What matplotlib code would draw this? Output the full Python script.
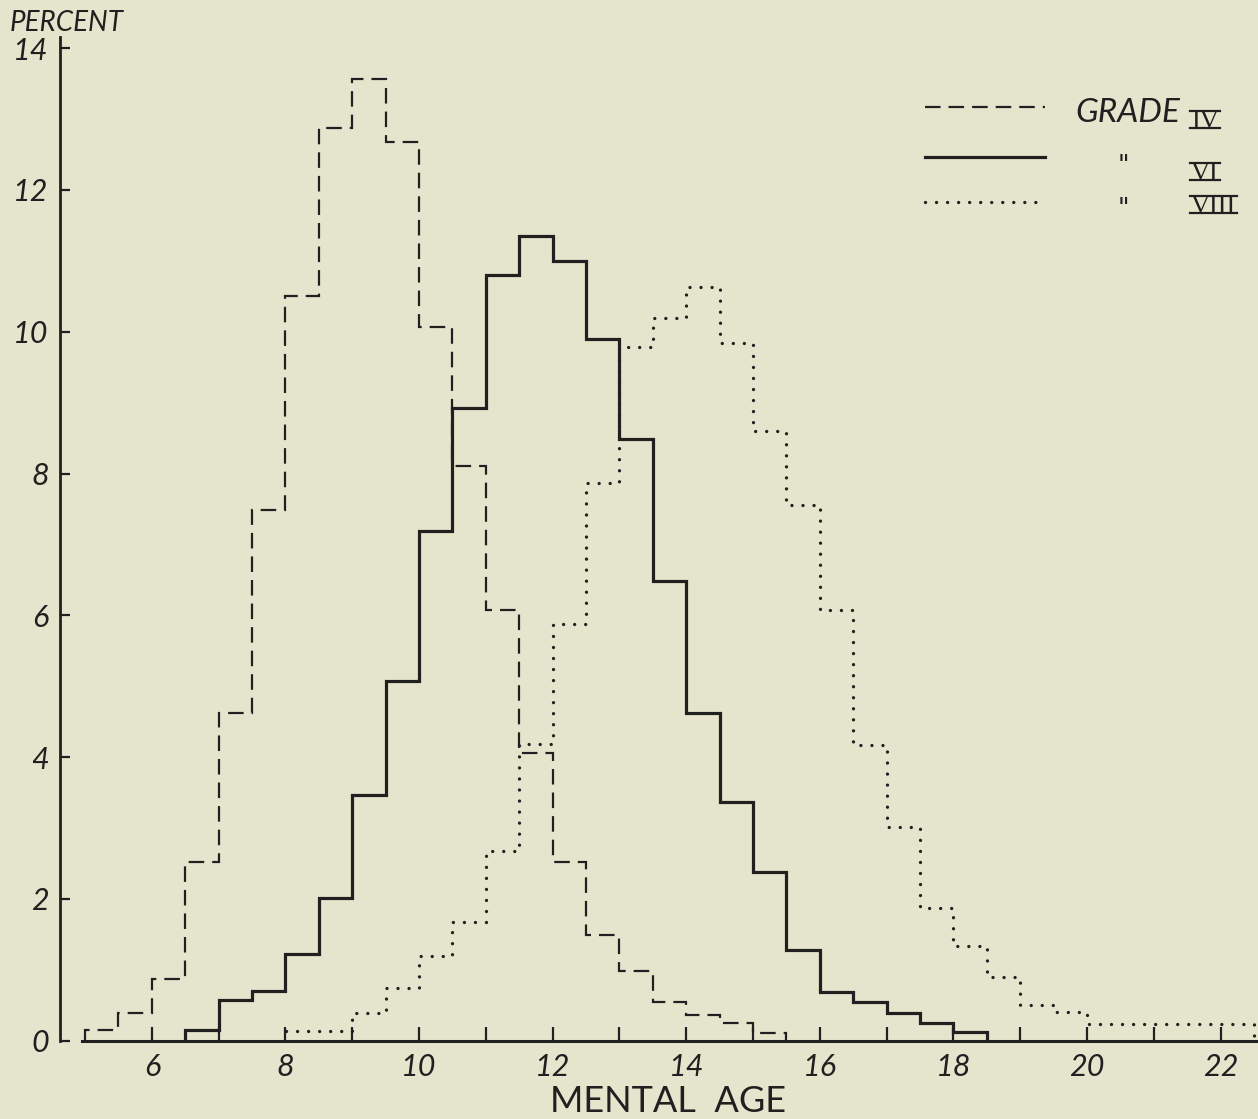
import matplotlib
matplotlib.use("Agg")
import matplotlib.pyplot as plt
from matplotlib.lines import Line2D
import numpy as np

# ---- data (percent per half-year mental-age interval) ----
grade4_start = 5.0
grade4_pct = [0.15, 0.39, 0.87, 2.52, 4.62, 7.49, 10.51, 12.87, 13.57, 12.67,
              10.06, 8.10, 6.07, 4.06, 2.52, 1.49, 0.99, 0.55, 0.36, 0.25, 0.11]

grade6_start = 6.5
grade6_pct = [0.15, 0.57, 0.70, 1.22, 2.01, 3.46, 5.08, 7.19, 8.92, 10.80,
              11.35, 11.00, 9.89, 8.49, 6.48, 4.62, 3.36, 2.38, 1.28, 0.69,
              0.55, 0.39, 0.25, 0.12]

grade8_start = 8.0
grade8_pct = [0.14, 0.14, 0.39, 0.75, 1.19, 1.68, 2.68, 4.19, 5.88, 7.87,
              9.79, 10.19, 10.63, 9.84, 8.60, 7.55, 6.08, 4.17, 3.01, 1.87,
              1.33, 0.90, 0.51, 0.40, 0.23, 0.23, 0.23, 0.23, 0.23]

bin_width = 0.5
x_ticks = [6, 8, 10, 12, 14, 16, 18, 20, 22]
y_ticks = [0, 2, 4, 6, 8, 10, 12, 14]
legend_labels = [("GRADE", "IV"), ("\"", "VI"), ("\"", "VIII")]

BG = "#E5E5CD"
INK = "#202020"
W, H = 1258, 1119

plt.rcParams['font.family'] = ['Lato', 'DejaVu Sans']

fig = plt.figure(figsize=(W / 100, H / 100), dpi=100, facecolor=BG)
ax_left_px, ax_right_px = 60, 1258
ax_bottom_px, ax_top_px = 1040.7, 37
ax = fig.add_axes([ax_left_px / W, 1 - ax_bottom_px / H,
                   (ax_right_px - ax_left_px) / W, (ax_bottom_px - ax_top_px) / H])
ax.set_facecolor(BG)

px_per_x = 66.8
px_per_y = 70.9
xmin = 10 - (419 - ax_left_px) / px_per_x
xmax = 10 + (ax_right_px - 419) / px_per_x
ax.set_xlim(xmin, xmax)
ax.set_ylim(0, (ax_bottom_px - ax_top_px) / px_per_y)


def edges(start, n):
    return start + bin_width * np.arange(n + 1)


DASH = (0, (7.0, 3.6))
DOT = (0, (0.01, 3.3))
ax.stairs(grade4_pct, edges(grade4_start, len(grade4_pct)), baseline=0,
          color=INK, lw=1.6, linestyle=DASH)
ax.stairs(grade6_pct, edges(grade6_start, len(grade6_pct)), baseline=0,
          color=INK, lw=2.3, linestyle='-')
st8 = ax.stairs(grade8_pct, edges(grade8_start, len(grade8_pct)), baseline=0,
                color=INK, lw=2.4, linestyle=DOT)
st8.set_capstyle('round')

# axes styling
for s in ['top', 'right']:
    ax.spines[s].set_visible(False)
ax.spines['left'].set_color(INK)
ax.spines['left'].set_linewidth(2.0)
ax.spines['bottom'].set_color(INK)
ax.spines['bottom'].set_linewidth(2.2)
ax.spines['bottom'].set_bounds(4.95, xmax)

ax.set_xticks(x_ticks)
ax.set_xticks(range(6, 23), minor=True)
ax.set_yticks(y_ticks)
ax.tick_params(axis='x', which='both', direction='in', length=10, width=1.6,
               color=INK, pad=9, labelsize=22, labelcolor=INK)
ax.tick_params(axis='y', which='both', direction='in', length=7, width=1.6,
               color=INK, pad=8, labelsize=22, labelcolor=INK)
for lab in ax.get_xticklabels() + ax.get_yticklabels():
    lab.set_fontstyle('italic')

# axis titles
fig.text(10 / W, 1 - 23 / H, "PERCENT", fontsize=20, color=INK,
         ha='left', va='center', fontstyle='italic')
fig.text(668 / W, 1 - 1102 / H, "MENTAL  AGE", fontsize=26, color=INK,
         ha='center', va='center')

# legend
leg_lines = [(106.7, DASH, 1.6, 'butt'),
             (156.7, '-', 2.3, 'butt'),
             (201.7, DOT, 2.4, 'round')]
word_y = [113, 162, 205]          # centre of GRADE / ditto marks (px from top)
roman_base = [128, 180, 213]      # baseline of roman numerals (px from top)
ROMAN_FS = 19
cap_px = 0.66 * ROMAN_FS * 100 / 72

roman_texts = []
for (ypx, ls, lw, cap), (t1, t2), wy, rb in zip(leg_lines, legend_labels,
                                                word_y, roman_base):
    ln = Line2D([925 / W, 1045 / W], [1 - ypx / H, 1 - ypx / H],
                transform=fig.transFigure, color=INK, lw=lw, linestyle=ls,
                dash_capstyle=cap)
    fig.add_artist(ln)
    if t1 == "GRADE":
        fig.text(1075 / W, 1 - wy / H, t1, fontsize=24, color=INK,
                 ha='left', va='center', fontstyle='italic')
    else:
        fig.text(1123 / W, 1 - (wy + 3) / H, t1, fontsize=18, color=INK,
                 ha='center', va='center', family=['DejaVu Sans'])
    rt = fig.text(1191 / W, 1 - rb / H, t2, fontsize=ROMAN_FS, color=INK,
                  ha='left', va='baseline',
                  family=['Liberation Serif', 'DejaVu Serif'])
    roman_texts.append((rt, rb))

# top and bottom bars on the roman numerals
fig.canvas.draw()
renderer = fig.canvas.get_renderer()
for rt, rb in roman_texts:
    bb = rt.get_window_extent(renderer)
    x0, x1 = (bb.x0 - 1) / W, (bb.x1 + 1) / W
    for ypx in (rb, rb - cap_px):
        fy = 1 - ypx / H
        fig.add_artist(Line2D([x0, x1], [fy, fy], transform=fig.transFigure,
                              color=INK, lw=1.6))

fig.savefig("out.png", dpi=100, facecolor=BG)
